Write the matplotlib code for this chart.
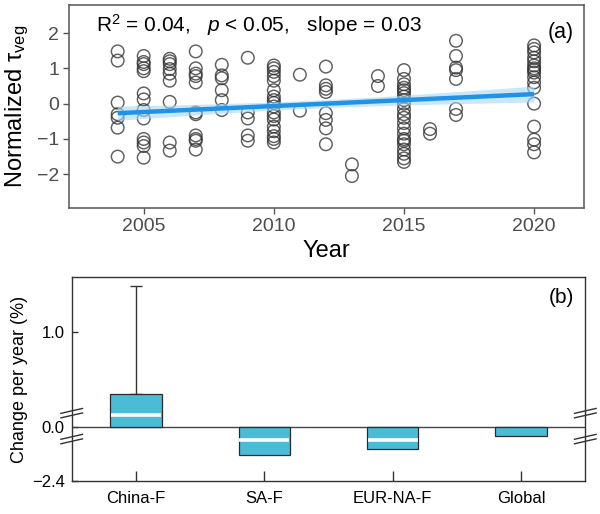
import numpy as np
import matplotlib
matplotlib.use("Agg")
import matplotlib.pyplot as plt

plt.rcParams['font.family'] = ['Liberation Sans', 'DejaVu Sans']
plt.rcParams['mathtext.fontset'] = 'custom'
plt.rcParams['mathtext.rm'] = 'Liberation Sans'
plt.rcParams['mathtext.it'] = 'Liberation Sans:italic'

# ---- panel (a): normalized tau_veg per study year ----
pts_2004 = [1.48, 1.22, 0.03, -0.3, -0.4, -0.68, -1.5]
pts_2005 = [1.35, 1.18, 1.12, 1.0, 0.92, 0.29, 0.12, -0.18, -0.42, -1.0, -1.1, -1.2, -1.53]
pts_2006 = [1.27, 1.2, 1.12, 0.98, 0.85, 0.65, 0.05, -1.1, -1.33]
pts_2007 = [1.48, 1.0, 0.85, 0.78, 0.6, -0.25, -0.3, -0.9, -1.0, -1.05, -1.3]
pts_2008 = [1.1, 0.8, 0.72, 0.38, 0.1, -0.18]
pts_2009 = [1.3, -0.25, -0.42, -0.9, -1.05]
pts_2010 = [1.08, 1.0, 0.9, 0.78, 0.65, 0.38, 0.2, 0.1, 0.02, -0.08, -0.25,
            -0.35, -0.45, -0.65, -0.78, -0.92, -1.0, -1.1]
pts_2011 = [0.82, -0.2]
pts_2012 = [1.05, 0.52, 0.42, 0.33, -0.27, -0.46, -0.7, -1.15]
pts_2013 = [-1.72, -2.05]
pts_2014 = [0.78, 0.5]
pts_2015 = [0.95, 0.7, 0.55, 0.45, 0.38, 0.3, 0.2, 0.1, 0.0, -0.15, -0.3,
            -0.4, -0.55, -0.7, -0.85, -1.0, -1.05, -1.15, -1.3, -1.42, -1.55, -1.65]
pts_2016 = [-0.72, -0.85]
pts_2017 = [1.78, 1.35, 1.02, 0.95, 0.7, -0.15, -0.32]
pts_2020 = [1.65, 1.55, 1.45, 1.3, 1.2, 1.08, 1.0, 0.95, 0.88, 0.75, 0.6, 0.45,
            0.0, -0.65, -1.02, -1.15, -1.38]

study_years = [2004, 2005, 2006, 2007, 2008, 2009, 2010, 2011, 2012, 2013,
               2014, 2015, 2016, 2017, 2020]
study_points = [pts_2004, pts_2005, pts_2006, pts_2007, pts_2008, pts_2009,
                pts_2010, pts_2011, pts_2012, pts_2013, pts_2014, pts_2015,
                pts_2016, pts_2017, pts_2020]

# fitted trend (endpoints of the line)
fit_years = [2004, 2020]
fit_values = [-0.27, 0.27]

# ---- panel (b): change per year by region ----
regions = ["China-F", "SA-F", "EUR-NA-F", "Global"]
region_mean = [0.35, -1.24, -0.99, -0.39]
region_median = [0.13, -0.56, -0.56, np.nan]
china_err_top = 1.49

# ================= figure =================
fig = plt.figure(figsize=(6, 5.14), dpi=100)

ax1 = fig.add_axes([0.115, 0.595, 0.858, 0.395])
x = np.concatenate([[yr] * len(v) for yr, v in zip(study_years, study_points)])
y = np.concatenate(study_points)
ax1.scatter(x, y, s=82, facecolors='none', edgecolors='#333333',
            linewidths=1.05, alpha=0.78, zorder=2)

# trend line + confidence band
slope = (fit_values[1] - fit_values[0]) / (fit_years[1] - fit_years[0])
xs = np.linspace(fit_years[0], fit_years[1], 100)
ys = fit_values[0] + slope * (xs - fit_years[0])
resid = y - (fit_values[0] + slope * (x - fit_years[0]))
n = len(x)
s = np.sqrt(np.sum(resid ** 2) / (n - 2))
se = s * np.sqrt(1.0 / n + (xs - x.mean()) ** 2 / np.sum((x - x.mean()) ** 2))
band = 1.4 * se
ax1.fill_between(xs, ys - band, ys + band, color='#a8d8f5',
                 alpha=0.6, lw=0, zorder=3)
ax1.plot(xs, ys, color='#2193e6', lw=3.2, zorder=4, solid_capstyle='butt')

ax1.set_xlim(2002.13, 2021.91)
ax1.set_ylim(-2.96, 2.79)
ax1.set_xticks([2005, 2010, 2015, 2020])
ax1.set_yticks([-2, -1, 0, 1, 2])
ax1.tick_params(direction='out', length=4, width=1, color='#555555',
                labelcolor='#4d4d4d', labelsize=14, pad=3)
for sp in ax1.spines.values():
    sp.set_color('#555555')
    sp.set_linewidth(1.1)
ax1.set_xlabel('Year', fontsize=17, labelpad=4)
ax1.set_ylabel(r'Normalized τ$_{\mathrm{veg}}$', fontsize=17, labelpad=4)

ax1.text(0.052, 0.867, r'R$^2$ = 0.04,   $p$ < 0.05,   slope = 0.03',
         transform=ax1.transAxes, fontsize=15, va='baseline', ha='left')
ax1.text(0.981, 0.837, '(a)', transform=ax1.transAxes, fontsize=15.5,
         va='baseline', ha='right')

# ---- bottom panel with compressed negative range ----
k = 0.237


def fwd(v):
    v = np.asarray(v, dtype=float)
    return np.where(v >= 0, v, v * k)


def inv(v):
    v = np.asarray(v, dtype=float)
    return np.where(v >= 0, v, v / k)


ax2 = fig.add_axes([0.1195, 0.064, 0.856, 0.397])
ax2.set_yscale('function', functions=(fwd, inv))
xpos = np.arange(len(regions))
ax2.bar(xpos, region_mean, width=0.4, color='#4bbcd6', edgecolor='#2b2b2b',
        linewidth=0.9, zorder=3)
ax2.hlines(region_median, xpos - 0.195, xpos + 0.195, color='white',
           lw=2.6, zorder=4)
ax2.errorbar([xpos[0]], [region_mean[0]],
             yerr=[[0], [china_err_top - region_mean[0]]],
             fmt='none', ecolor='#333333', elinewidth=1, capsize=4.5,
             capthick=1, zorder=2)
ax2.axhline(0, color='#444444', lw=1, zorder=2)

ax2.set_xlim(-0.5, 3.5)
ax2.set_ylim(-2.4, 1.58)
ax2.set_xticks(xpos)
ax2.set_xticklabels(regions)
ax2.set_yticks([-2.4, 0.0, 1.0])
ax2.set_yticklabels(['\u22122.4', '0.0', '1.0'])
ax2.tick_params(axis='x', direction='in', length=7, width=1, labelsize=12,
                pad=7, color='#333333')
ax2.tick_params(axis='y', direction='in', length=4, width=1, labelsize=12,
                pad=5, color='#333333')
for sp in ax2.spines.values():
    sp.set_color('#333333')
    sp.set_linewidth(1)
ax2.set_ylabel('Change per year (%)', fontsize=13, labelpad=3)
ax2.text(0.978, 0.873, '(b)', transform=ax2.transAxes, fontsize=15,
         va='baseline', ha='right')

# axis-break marks on both side spines
for xb in (0.0, 1.0):
    for yb in (0.333, 0.206):
        for off in (-0.011, 0.011):
            ax2.plot([xb - 0.021, xb + 0.021],
                     [yb + off - 0.012, yb + off + 0.012],
                     transform=ax2.transAxes, color='#333333', lw=1,
                     clip_on=False, zorder=5)

fig.savefig('out.png', dpi=100)
